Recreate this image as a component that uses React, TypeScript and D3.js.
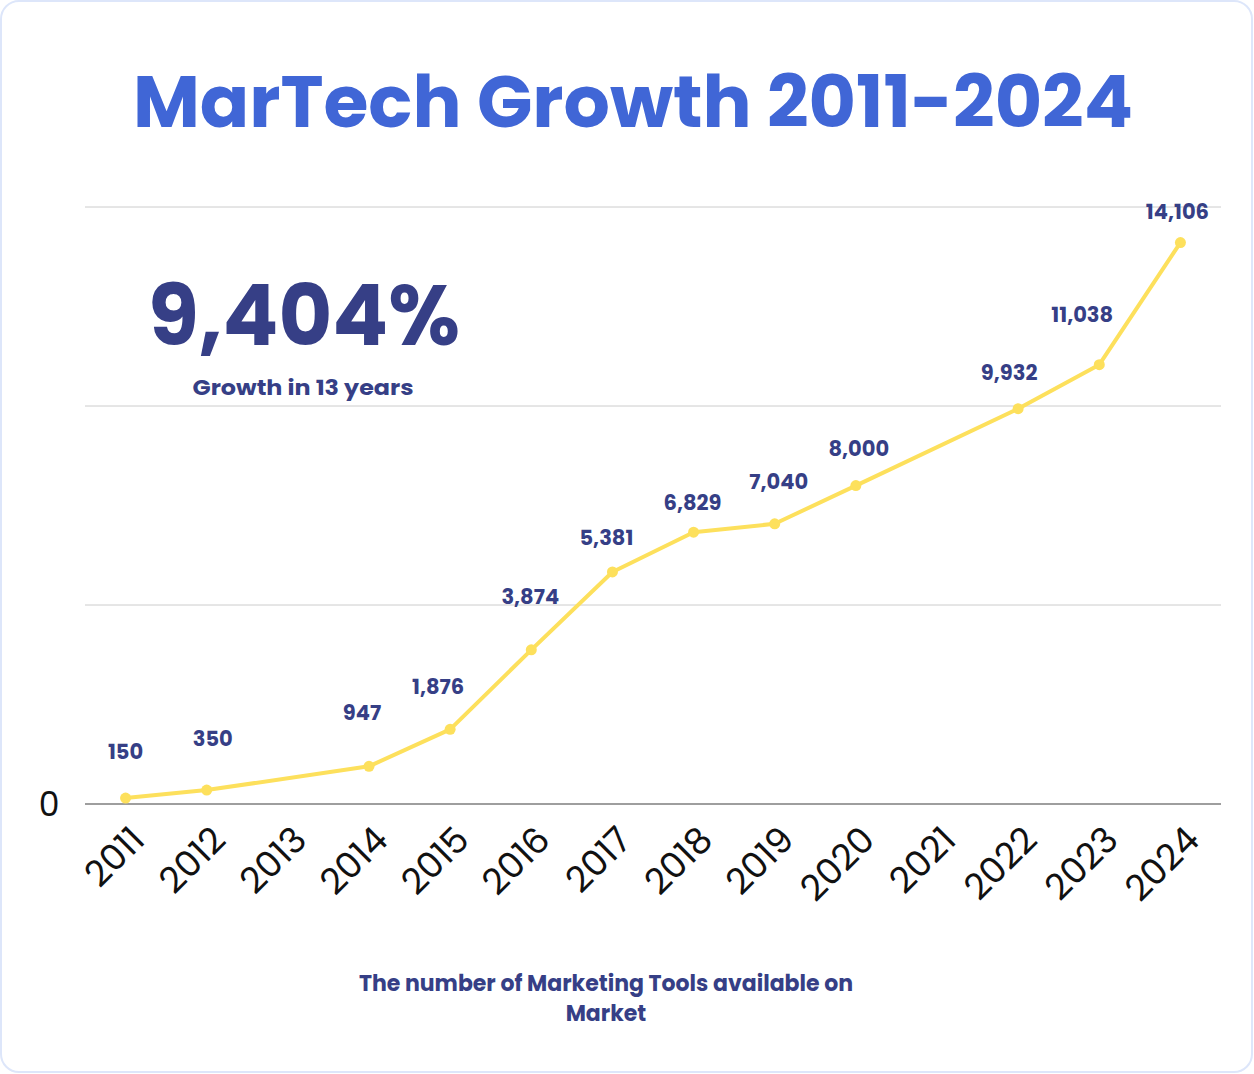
import React from "react";
import * as d3 from "d3";

const years = ["2011","2012","2013","2014","2015","2016","2017","2018","2019","2020","2021","2022","2023","2024"];
// plotted positions (the 2017 point sits above its printed value)
const tools: (number | null)[] = [150, 350, null, 947, 1876, 3874, 5830, 6829, 7040, 8000, null, 9932, 11038, 14106];
const valueLabels = ["150", "350", "", "947", "1,876", "3,874", "5,381", "6,829", "7,040", "8,000", "", "9,932", "11,038", "14,106"];
const gridValues = [0, 5000, 10000, 15000];
const labelNudgeX = [0, 6, 0, -7, -12, -1, -6, -1, 4, 3, 0, -9, -17, -3];
const labelNudgeY = [46, 51, 0, 54, 43, 53, 34, 30, 42, 37, 0, 36, 50, 31];

const title = "MarTech Growth 2011-2024";
const bigStat = "9,404%";
const bigStatSub = "Growth in 13 years";
const footer = ["The number of Marketing Tools available on", "Market"];

const W = 1254, H = 1074;
const NAVY = "#363f86";
const BLUE = "#4066d6";
const YELLOW = "#fde05c";
const FONT = "Poppins, 'DejaVu Sans', sans-serif";

export default function App() {
  const x = d3.scaleBand<string>().domain(years).range([85, 1221]).padding(0);
  const y = d3.scaleLinear().domain([0, 15000]).range([804, 207]);
  const cx = (yr: string) => (x(yr) as number) + x.bandwidth() / 2;
  const pts = years.map((yr, i) => ({ yr, v: tools[i], i })).filter(p => p.v != null) as { yr: string; v: number; i: number }[];
  const line = d3.line<{ yr: string; v: number }>().x(d => cx(d.yr)).y(d => y(d.v));

  return (
    <svg width={W} height={H} style={{ position: "absolute", left: 0, top: 0 }} fontFamily={FONT}>
      <rect x={1} y={1} width={W - 3} height={H - 3} rx={18} fill="#fff" stroke="#dde6fa" strokeWidth={2} />
      <text x={633} y={127} textAnchor="middle" fontSize={72} fontWeight={700} fill={BLUE} textLength={1000} lengthAdjust="spacingAndGlyphs">{title}</text>

      {gridValues.map(g => (
        <line key={g} x1={85} x2={1221} y1={y(g)} y2={y(g)} stroke={g === 0 ? "#9e9e9e" : "#cccccc"} strokeWidth={g === 0 ? 2 : 1} />
      ))}
      <text x={49} y={y(0)} dy="0.36em" textAnchor="middle" fontSize={33} fill="#111">0</text>

      <text x={304} y={345} textAnchor="middle" fontSize={84} fontWeight={700} fill={NAVY} textLength={312} lengthAdjust="spacingAndGlyphs">{bigStat}</text>
      <text x={303} y={395} textAnchor="middle" fontSize={21} fontWeight={700} fill={NAVY} textLength={221} lengthAdjust="spacingAndGlyphs">{bigStatSub}</text>

      <path d={line(pts) || ""} fill="none" stroke={YELLOW} strokeWidth={4} strokeLinejoin="round" />
      {pts.map(p => (
        <circle key={p.yr} cx={cx(p.yr)} cy={y(p.v)} r={5.5} fill={YELLOW} />
      ))}
      {pts.map(p => (
        <text key={"l" + p.yr} x={cx(p.yr) + labelNudgeX[p.i]} y={y(p.v) - labelNudgeY[p.i]} dy="0.35em" textAnchor="middle" fontSize={21} fontWeight={700} fill={NAVY}>{valueLabels[p.i]}</text>
      ))}

      {years.map(yr => (
        <text key={"t" + yr} transform={`translate(${cx(yr) + 21},842) rotate(-45)`} textAnchor="end" fontSize={36} fill="#111">{yr}</text>
      ))}

      {footer.map((f, i) => (
        <text key={f} x={606} y={991 + i * 30} textAnchor="middle" fontSize={22} fontWeight={700} fill={NAVY}>{f}</text>
      ))}
    </svg>
  );
}
